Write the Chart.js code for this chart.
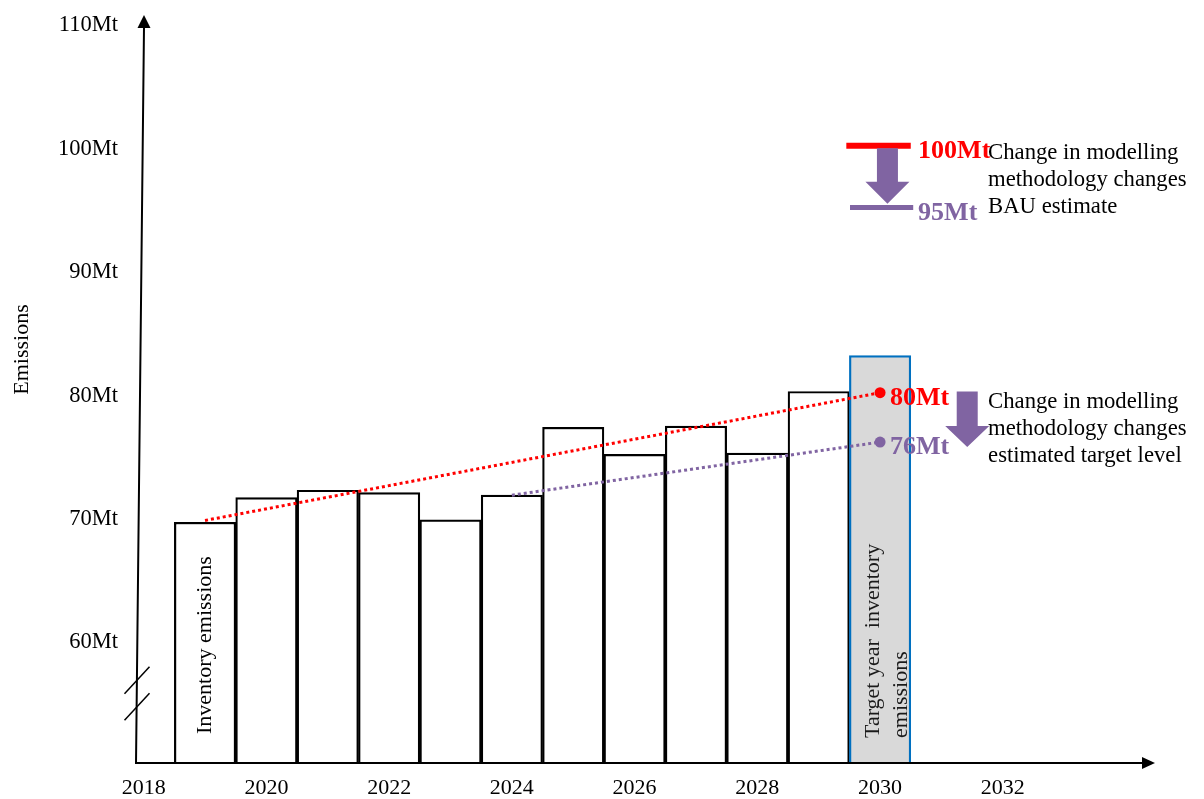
<!DOCTYPE html>
<html>
<head>
<meta charset="utf-8">
<title>Emissions</title>
<script src="https://cdn.jsdelivr.net/npm/chart.js@4.4.1/dist/chart.umd.min.js"></script>
<style>
    html, body { margin: 0; padding: 0; background: #fff; }
    #wrap { width: 1204px; height: 799px; }
</style>
</head>
<body>
<div id="wrap"><canvas id="graph" width="1204" height="799"></canvas></div>
<script>
const YEARS = [2019, 2020, 2021, 2022, 2023, 2024, 2025, 2026, 2027, 2028, 2029, 2030];
const INVENTORY = [69.5, 71.5, 72.1, 71.9, 69.7, 71.7, 77.2, 75.0, 77.3, 75.1, 80.1, 83.0];
const X_TICKS = [2018, 2020, 2022, 2024, 2026, 2028, 2030, 2032];
const Y_TICKS = [60, 70, 80, 90, 100, 110];
const X_RANGE = [2017.875, 2034.48];
const Y_RANGE = [50, 110.6];

// estimated target lines (old and new modelling)
const OLD_TARGET = [{ x: 2019, y: 69.65 }, { x: 2030, y: 80 }];
const NEW_TARGET = [{ x: 2024, y: 71.7 }, { x: 2030, y: 76 }];
// BAU estimate markers
const OLD_BAU = [{ x: 2029.45, y: 100 }, { x: 2030.5, y: 100 }];
const NEW_BAU = [{ x: 2029.51, y: 95 }, { x: 2030.54, y: 95 }];

const ARROWS = [
    { x: 2030.12, top: 99.8, neck: 97.1, tip: 95.3 },
    { x: 2031.42, top: 80.1, neck: 77.3, tip: 75.6 }
];
const VALUE_LABELS = [
    { text: '100Mt', x: 2030.62, y: 100, color: '#ff0000' },
    { text: '95Mt', x: 2030.62, y: 95, color: '#8064a2' },
    { text: '80Mt', x: 2030.16, y: 80, color: '#ff0000' },
    { text: '76Mt', x: 2030.16, y: 76, color: '#8064a2' }
];
const NOTES = [
    { x: 2031.76, y: 98.95, lines: ['Change in modelling', 'methodology changes', 'BAU estimate'] },
    { x: 2031.76, y: 78.77, lines: ['Change in modelling', 'methodology changes', 'estimated target level'] }
];
const BAR_NOTES = [
    { bar: 0, lines: ['Inventory emissions'] },
    { bar: 11, lines: ['Target year  inventory', 'emissions'] }
];
const BREAK_MARKS = [56.7, 54.55];
const AXIS_TITLE = 'Emissions';

const RED = '#ff0000';
const PURPLE = '#8064a2';
const SERIF = "'Liberation Serif', 'Times New Roman', serif";

Chart.defaults.font.family = SERIF;
Chart.defaults.color = '#000';

function drawUp(ctx, text, x, y) {
    ctx.save();
    ctx.translate(x, y);
    ctx.rotate(-Math.PI / 2);
    ctx.fillText(text, 0, 0);
    ctx.restore();
}

const overlay = {
    id: 'overlay',
    afterDraw(chart) {
        const { ctx, chartArea: area, scales: { x, y } } = chart;
        ctx.save();

        // axes with arrow heads (y axis leans slightly, like the original)
        ctx.strokeStyle = '#000';
        ctx.fillStyle = '#000';
        ctx.lineWidth = 2;
        const topX = area.left + 8;
        ctx.beginPath();
        ctx.moveTo(area.left, area.bottom);
        ctx.lineTo(topX, area.top + 12);
        ctx.moveTo(area.left - 1, area.bottom);
        ctx.lineTo(area.right - 12, area.bottom);
        ctx.stroke();
        ctx.beginPath();
        ctx.moveTo(topX, area.top);
        ctx.lineTo(topX - 6.5, area.top + 13);
        ctx.lineTo(topX + 6.5, area.top + 13);
        ctx.closePath();
        ctx.fill();
        ctx.beginPath();
        ctx.moveTo(area.right, area.bottom);
        ctx.lineTo(area.right - 13, area.bottom - 6);
        ctx.lineTo(area.right - 13, area.bottom + 6);
        ctx.closePath();
        ctx.fill();

        // axis break
        ctx.lineWidth = 1.5;
        BREAK_MARKS.forEach(v => {
            const py = y.getPixelForValue(v);
            const px = area.left + 1;
            ctx.beginPath();
            ctx.moveTo(px - 12.5, py + 13.5);
            ctx.lineTo(px + 12.5, py - 13.5);
            ctx.stroke();
        });

        // y axis title
        ctx.font = `22px ${SERIF}`;
        ctx.textAlign = 'center';
        ctx.textBaseline = 'middle';
        drawUp(ctx, AXIS_TITLE, 22, y.getPixelForValue(83.5));

        // text inside bars
        const bars = chart.getDatasetMeta(0).data;
        ctx.textAlign = 'left';
        ctx.fillStyle = '#000';
        drawUp(ctx, BAR_NOTES[0].lines[0], bars[BAR_NOTES[0].bar].x, area.bottom - 29);
        ctx.fillStyle = '#1a1a1a';
        drawUp(ctx, BAR_NOTES[1].lines[0], bars[BAR_NOTES[1].bar].x - 7, area.bottom - 25);
        drawUp(ctx, BAR_NOTES[1].lines[1], bars[BAR_NOTES[1].bar].x + 21, area.bottom - 25);

        // purple down arrows
        ctx.fillStyle = PURPLE;
        ARROWS.forEach(a => {
            const cx = x.getPixelForValue(a.x);
            const top = y.getPixelForValue(a.top);
            const neck = y.getPixelForValue(a.neck);
            const tip = y.getPixelForValue(a.tip);
            ctx.beginPath();
            ctx.moveTo(cx - 10.5, top);
            ctx.lineTo(cx + 10.5, top);
            ctx.lineTo(cx + 10.5, neck);
            ctx.lineTo(cx + 22, neck);
            ctx.lineTo(cx, tip);
            ctx.lineTo(cx - 22, neck);
            ctx.lineTo(cx - 10.5, neck);
            ctx.closePath();
            ctx.fill();
        });

        // value labels
        ctx.font = `bold 26px ${SERIF}`;
        ctx.textBaseline = 'alphabetic';
        VALUE_LABELS.forEach(l => {
            ctx.fillStyle = l.color;
            ctx.fillText(l.text, x.getPixelForValue(l.x), y.getPixelForValue(l.y) + 12);
        });

        // notes
        ctx.font = `22.7px ${SERIF}`;
        ctx.fillStyle = '#000';
        NOTES.forEach(n => {
            const px = x.getPixelForValue(n.x);
            const py = y.getPixelForValue(n.y);
            n.lines.forEach((line, i) => ctx.fillText(line, px, py + i * 27));
        });

        ctx.restore();
    }
};

const ctx = document.getElementById('graph').getContext('2d');
const chart = new Chart(ctx, {
    type: 'bar',
    data: {
        datasets: [
            {
                type: 'bar',
                data: YEARS.map((year, i) => ({ x: year, y: INVENTORY[i] })),
                base: Y_RANGE[0],
                backgroundColor: YEARS.map((_, i) => i === YEARS.length - 1 ? '#d9d9d9' : '#ffffff'),
                borderColor: YEARS.map((_, i) => i === YEARS.length - 1 ? '#0070c0' : '#000000'),
                borderWidth: 2.2,
                barPercentage: 1,
                categoryPercentage: 1,
                order: 3
            },
            {
                type: 'line',
                data: OLD_TARGET,
                borderColor: RED,
                borderWidth: 3,
                borderDash: [3, 3],
                pointRadius: [0, 5.5],
                pointBackgroundColor: RED,
                pointBorderWidth: 0,
                order: 1
            },
            {
                type: 'line',
                data: NEW_TARGET,
                borderColor: PURPLE,
                borderWidth: 3,
                borderDash: [3, 3],
                pointRadius: [0, 5.5],
                pointBackgroundColor: PURPLE,
                pointBorderWidth: 0,
                order: 1
            },
            {
                type: 'line',
                data: OLD_BAU,
                borderColor: RED,
                borderWidth: 6,
                pointRadius: 0,
                order: 1
            },
            {
                type: 'line',
                data: NEW_BAU,
                borderColor: PURPLE,
                borderWidth: 5,
                pointRadius: 0,
                order: 1
            }
        ]
    },
    options: {
        responsive: false,
        animation: false,
        events: [],
        layout: { padding: { left: 0, right: 49, top: 15, bottom: 0 } },
        plugins: {
            legend: { display: false },
            tooltip: { enabled: false }
        },
        scales: {
            x: {
                type: 'linear',
                offset: false,
                min: X_RANGE[0],
                max: X_RANGE[1],
                grid: { display: false, drawTicks: false, offset: false },
                border: { display: false },
                afterBuildTicks: s => { s.ticks = X_TICKS.map(v => ({ value: v })); },
                afterFit: s => { s.height = 36; s.paddingLeft = 0; s.paddingRight = 0; },
                ticks: {
                    font: { size: 22 },
                    color: '#000',
                    padding: 12,
                    maxRotation: 0,
                    autoSkip: false,
                    callback: v => String(v)
                }
            },
            y: {
                min: Y_RANGE[0],
                max: Y_RANGE[1],
                grid: { display: false, drawTicks: false },
                border: { display: false },
                afterBuildTicks: s => { s.ticks = Y_TICKS.map(v => ({ value: v })); },
                afterFit: s => { s.width = 136; s.paddingTop = 0; s.paddingBottom = 0; },
                ticks: {
                    font: { size: 22.5 },
                    color: '#000',
                    padding: 18,
                    labelOffset: 3,
                    callback: v => v + 'Mt'
                }
            }
        }
    },
    plugins: [overlay]
});
</script>
</body>
</html>
